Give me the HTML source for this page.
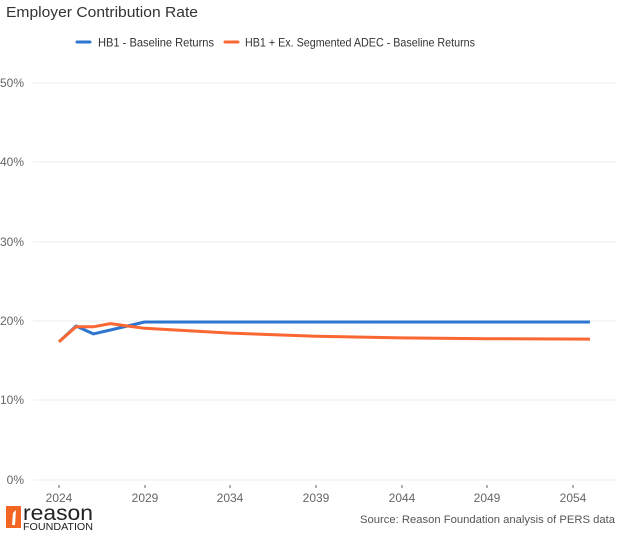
<!DOCTYPE html>
<html><head><meta charset="utf-8"><style>
body{margin:0;background:#fff;width:624px;height:535px;overflow:hidden;font-family:"Liberation Sans",sans-serif}
</style></head><body>
<svg width="624" height="535" xmlns="http://www.w3.org/2000/svg" font-family="Liberation Sans, sans-serif">
<text x="6" y="17" font-size="14.5" fill="#333" textLength="192" lengthAdjust="spacingAndGlyphs">Employer Contribution Rate</text>
<line x1="77" y1="42" x2="90" y2="42" stroke="#2e75d0" stroke-width="3" stroke-linecap="round"/>
<text x="98" y="46.5" font-size="12" fill="#333" textLength="116" lengthAdjust="spacingAndGlyphs">HB1 - Baseline Returns</text>
<line x1="225" y1="42" x2="238" y2="42" stroke="#fa6733" stroke-width="3" stroke-linecap="round"/>
<text x="245" y="46.5" font-size="12" fill="#333" textLength="230" lengthAdjust="spacingAndGlyphs">HB1 + Ex. Segmented ADEC - Baseline Returns</text>
<g stroke="#eee" stroke-width="1">
<line x1="33" y1="83" x2="616" y2="83"/><line x1="33" y1="162" x2="616" y2="162"/>
<line x1="33" y1="242" x2="616" y2="242"/><line x1="33" y1="321" x2="616" y2="321"/>
<line x1="33" y1="400" x2="616" y2="400"/><line x1="33" y1="480" x2="616" y2="480"/>
</g>
<g font-size="12" fill="#666" text-anchor="end">
<text x="24" y="87">50%</text><text x="24" y="166">40%</text><text x="24" y="246">30%</text>
<text x="24" y="325">20%</text><text x="24" y="404">10%</text><text x="24" y="484">0%</text>
</g>
<g stroke="#666" stroke-width="1">
<line x1="59" y1="485" x2="59" y2="488"/><line x1="145" y1="485" x2="145" y2="488"/>
<line x1="230" y1="485" x2="230" y2="488"/><line x1="316" y1="485" x2="316" y2="488"/>
<line x1="402" y1="485" x2="402" y2="488"/><line x1="487" y1="485" x2="487" y2="488"/>
<line x1="573" y1="485" x2="573" y2="488"/>
</g>
<g font-size="12" fill="#666" text-anchor="middle">
<text x="59" y="502">2024</text><text x="145" y="502">2029</text><text x="230" y="502">2034</text>
<text x="316" y="502">2039</text><text x="402" y="502">2044</text><text x="487" y="502">2049</text>
<text x="573" y="502">2054</text>
</g>
<polyline fill="none" stroke="#2e75d0" stroke-width="3" stroke-linejoin="round" points="59,341.8 76.1,326 93.3,333.9 110.4,330 127.5,326 144.7,322 590,322"/>
<polyline fill="none" stroke="#fa6733" stroke-width="3" stroke-linejoin="round" points="59,341.8 76.1,326.8 93.3,326.8 110.4,323.6 127.5,326 144.7,328.3 230.3,333.1 316,336.3 401.6,337.9 487.3,338.7 590,339.1"/>
<rect x="6" y="506" width="15" height="22" fill="#f26522"/>
<path d="M12 525 L13 513 L16 510 L15 525 Z" fill="#fff"/>
<text x="23" y="520" font-size="21" fill="#222" textLength="70" lengthAdjust="spacingAndGlyphs">reason</text>
<text x="23" y="530" font-size="10" fill="#222" textLength="70" lengthAdjust="spacingAndGlyphs">FOUNDATION</text>
<text x="615" y="523" font-size="11" fill="#555" text-anchor="end" textLength="255" lengthAdjust="spacingAndGlyphs">Source: Reason Foundation analysis of PERS data</text>
</svg>
</body></html>
